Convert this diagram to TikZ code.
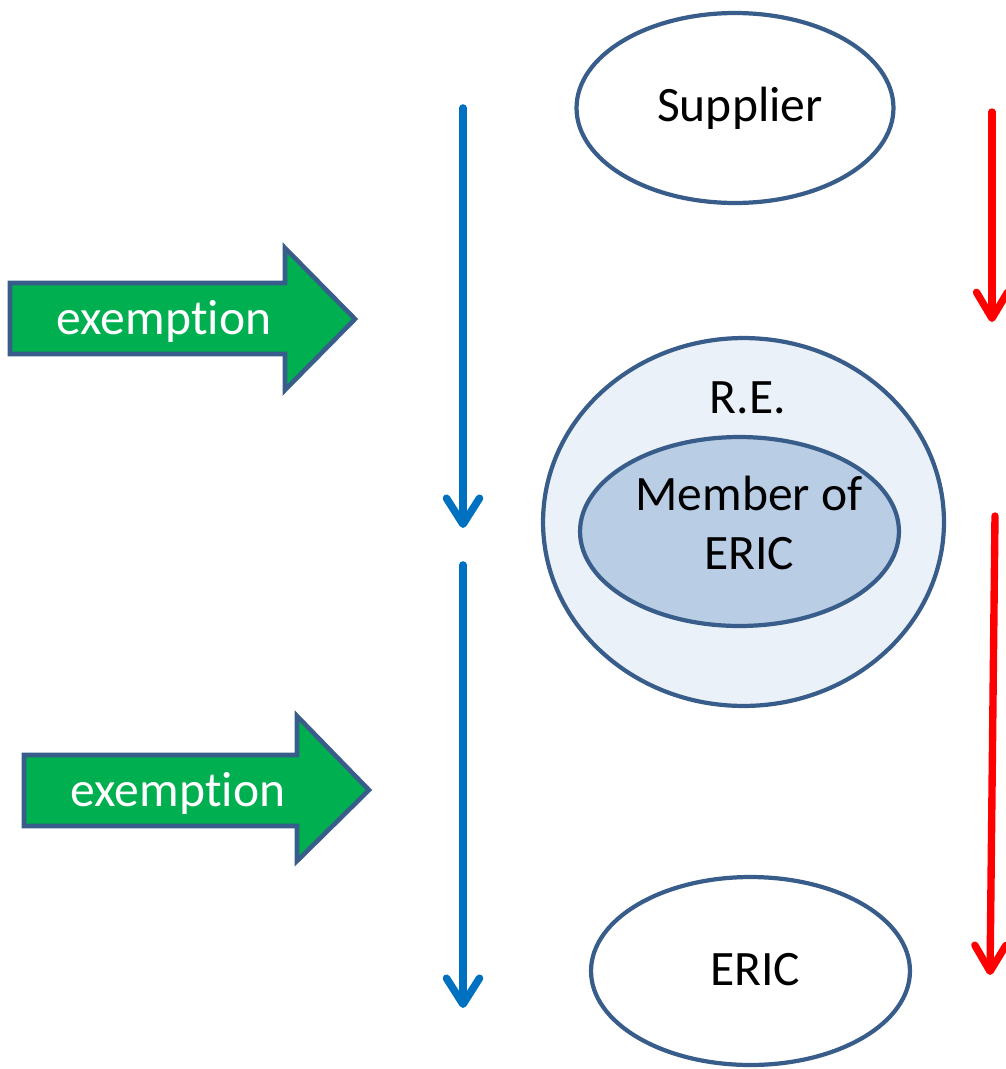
\documentclass[tikz,border=0pt]{standalone}
\usepackage{fontspec}
\setmainfont{Carlito}[Ligatures=NoCommon]
\usepackage{tikz}
\usetikzlibrary{shapes.geometric, arrows.meta}
\definecolor{lineBlue}{RGB}{56, 93, 138}
\definecolor{flowBlue}{RGB}{0, 112, 192}
\definecolor{exGreen}{RGB}{0, 176, 80}
\definecolor{reFill}{RGB}{235, 241, 248}
\definecolor{memberFill}{RGB}{185, 205, 229}

\begin{document}
\begin{tikzpicture}[x=0.02cm, y=-0.02cm,
    txt/.style={font=\fontsize{28.2}{33.5}\selectfont, inner sep=0pt},
    blob/.style={ellipse, draw=lineBlue, line width=2.4pt, inner sep=0pt},
    exarrow/.style={draw=lineBlue, fill=exGreen, line width=2.6pt, line join=miter},
    downblue/.style={flowBlue, line width=4.3pt, line cap=round,
      -{Straight Barb[length=0.52cm, width=0.66cm, line cap=round, round]}},
    downred/.style={red, line width=4.2pt, line cap=round,
      -{Straight Barb[length=0.52cm, width=0.62cm, line cap=round, round]}}]
      \useasboundingbox (0,0) rectangle (1006,1069);

      % entities
      \node[blob, fill=white, minimum width=6.34cm, minimum height=3.8cm] (supplier) at (735,108) {};
      \node[txt] (suppliertxt) at (740,108) {Supplier};
      \node[blob, fill=reFill, minimum width=8.02cm, minimum height=7.36cm] (re) at (743.5,522) {};
      \node[txt] (retxt) at (748,398) {R.E.};
      \node[blob, fill=memberFill, minimum width=6.38cm, minimum height=3.78cm] (member) at (739.5,531.5) {};
      \node[txt, align=center] (membertxt) at (749,523) {Member of\\ERIC};
      \node[blob, fill=white, minimum width=6.38cm, minimum height=3.76cm] (eric) at (750.5,971) {};
      \node[txt] (erictxt) at (755,970) {ERIC};

      % exemptions
      \draw[exarrow] (10,283) -- (285,283) -- (285,248) -- (355,319) -- (285,390) -- (285,354) -- (10,354) -- cycle;
      \node[txt, text=white] (ex1) at (164,321) {exemption};
      \draw[exarrow] (24,755) -- (297,755) -- (297,716) -- (369,790) -- (297,861) -- (297,826) -- (24,826) -- cycle;
      \node[txt, text=white] (ex2) at (178,793) {exemption};

      % flows
      \coordinate (b1) at (463,108);
      \coordinate (b2) at (463,528);
      \coordinate (b3) at (463,565);
      \coordinate (b4) at (463,1008);
      \draw[downblue] (b1) -- (b2);
      \draw[downblue] (b3) -- (b4);

      \coordinate (r1) at (992,112);
      \coordinate (r2) at (992,322);
      \coordinate (r3) at (995,516);
      \coordinate (r4) at (990,975);
      \draw[downred] (r1) -- (r2);
      \draw[downred] (r3) -- (r4);
    \end{tikzpicture}
\end{document}
